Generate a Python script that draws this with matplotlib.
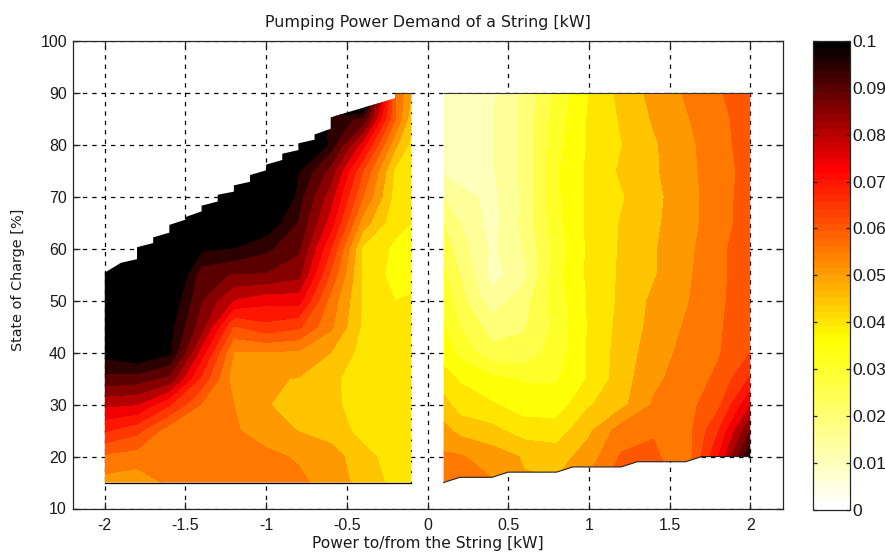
#!/usr/bin/env python
# -*- coding: utf-8 -*-
"""Plots the pumping power demand of a string."""

import matplotlib
matplotlib.use('Agg')
import matplotlib.pyplot as plt
import numpy as np
from matplotlib.cm import ScalarMappable
from matplotlib.colors import LinearSegmentedColormap, Normalize
from matplotlib.patches import Polygon

# Values
soc = [15, 20, 25, 30, 35, 40, 45, 50, 55, 60, 65, 70, 75, 80, 85, 90]
left_power = [-2, -1.8, -1.6, -1.4, -1.2, -1, -0.8, -0.6, -0.4, -0.2, -0.1]
right_power = [0.1, 0.2, 0.4, 0.6, 0.8, 1, 1.2, 1.4, 1.6, 1.8, 2]

left_demand = [
    [.053, .052, .056, .057, .0575, .058, .056, .053, .048, .0435, .042],
    [.059, .0575, .056, .0565, .057, .056, .0545, .0525, .0465, .043, .042],
    [.0705, .0665, .057, .056, .0555, .053, .0498, .0475, .0435, .0425, .0415],
    [.081, .08, .0705, .0595, .055, .0505, .047, .0465, .042, .0425, .041],
    [.0935, .0925, .0885, .0685, .0525, .0505, .0498, .0465, .0415, .0425, .0415],
    [.102, .105, .101, .0775, .0545, .0545, .054, .05, .043, .042, .0415],
    [.12, .12, .102, .087, .0645, .0685, .066, .056, .044, .041, .0408],
    [.12, .12, .105, .09, .0795, .0765, .077, .058, .0445, .04, .0405],
    [.12, .12, .11, .092, .0895, .0895, .0865, .064, .044, .038, .0385],
    [.12, .12, .12, .101, .0995, .096, .091, .07, .044, .039, .038],
    [.12, .12, .12, .12, .115, .104, .0945, .0775, .0525, .0415, .04],
    [.12, .12, .12, .12, .12, .12, .097, .082, .06, .043, .041],
    [.12, .12, .12, .12, .12, .12, .1005, .088, .065, .044, .0415],
    [.12, .12, .12, .12, .12, .12, .12, .0975, .077, .051, .0435],
    [.12, .12, .12, .12, .12, .12, .12, .097, .094, .06, .047],
    [.12, .12, .12, .12, .12, .12, .12, .12, .12, .06, .05],
]
right_demand = [
    [.058, .0585, .0555, .0505, .0505, .056, .064, .064, .058, .08, .11],
    [.0558, .0555, .0525, .0495, .0475, .0525, .0605, .061, .0565, .0745, .1],
    [.0515, .0485, .0465, .0425, .0425, .049, .0575, .0595, .0575, .0695, .09],
    [.047, .0425, .0405, .0375, .0372, .0445, .0485, .0555, .058, .0635, .0795],
    [.042, .0395, .036, .0345, .0345, .0405, .0475, .054, .057, .061, .0705],
    [.038, .0335, .0265, .027, .0325, .0405, .0472, .0525, .0565, .0595, .065],
    [.0355, .03, .0225, .0245, .0315, .0405, .0465, .0515, .0555, .0595, .0625],
    [.0335, .027, .017, .023, .0325, .0405, .046, .051, .0545, .059, .063],
    [.031, .025, .013, .0185, .0335, .041, .0457, .0495, .054, .0585, .0635],
    [.0275, .0225, .014, .0205, .032, .041, .0455, .0495, .0535, .0585, .0635],
    [.025, .02, .013, .0215, .0335, .041, .0453, .049, .053, .0577, .0625],
    [.0195, .017, .0135, .021, .034, .041, .0445, .0485, .053, .0575, .0625],
    [.014, .012, .0145, .0215, .0343, .041, .0457, .0492, .0535, .0575, .062],
    [.013, .012, .0145, .0215, .0335, .0405, .0448, .0493, .0535, .058, .0625],
    [.012, .012, .0145, .0215, .0325, .0405, .0455, .0505, .0545, .0585, .0625],
    [.012, .012, .0143, .021, .0315, .04, .0465, .0515, .0555, .0595, .0625],
]

# Limits of the operating range, outside of it there is no data
left_limit_power = [-2, -1.9, -1.8, -1.8, -1.7, -1.7, -1.6, -1.6, -1.5, -1.5, -1.4,
                    -1.4, -1.3, -1.3, -1.2, -1.2, -1.1, -1.1, -1, -1, -0.9, -0.9,
                    -0.8, -0.8, -0.7, -0.7, -0.6, -0.6, -0.2, -0.2, -0.1, -0.1, -2]
left_limit_soc = [55.4, 57.3, 58, 60.3, 61.1, 62.2, 63.1, 64.6, 65.6, 66.1, 67.2,
                  68.3, 69.1, 70.4, 71, 72.2, 72.9, 74.2, 75.1, 76.2, 77.1, 78.3,
                  79, 80.3, 81, 82, 83.1, 85.3, 89, 90, 90, 15, 15]
right_limit_power = [0.1, 0.2, 0.4, 0.5, 0.8, 0.9, 1.2, 1.3, 1.6, 1.7, 2, 2, 0.1]
right_limit_soc = [15, 16, 16, 17, 17, 18, 18, 19, 19, 20, 20, 90, 90]

x_ticks = [-2, -1.5, -1, -0.5, 0, 0.5, 1, 1.5, 2]
x_labels = ['-2', '-1.5', '-1', '-0.5', '0', '0.5', '1', '1.5', '2']
y_ticks = [10, 20, 30, 40, 50, 60, 70, 80, 90, 100]
bar_ticks = [0, .01, .02, .03, .04, .05, .06, .07, .08, .09, .1]
bar_labels = ['0', '0.01', '0.02', '0.03', '0.04', '0.05', '0.06', '0.07',
              '0.08', '0.09', '0.1']
levels = [0, .005, .01, .015, .02, .025, .03, .035, .04, .045, .05, .055, .06,
          .065, .07, .075, .08, .085, .09, .095, .1]

# Constants
_W, _H = 885, 559
_CLR_LINE = '#262626'
_CLR_TEXT = '#1a1a1a'

plt.rcParams['font.family'] = 'Liberation Sans'


def px_axes(fig, left, top, right, bottom):
    """Adds axes given by pixel edges of the picture."""
    return fig.add_axes([left / _W, 1 - bottom / _H, (right - left) / _W, (bottom - top) / _H])


if __name__ == '__main__':

    fig = plt.figure(figsize=(_W / 100, _H / 100), dpi=100)
    ax = px_axes(fig, 72.5, 41, 782.5, 508.5)

    # White - yellow - red - black
    cmap = LinearSegmentedColormap.from_list(
        'demand', [(0, '#ffffff'), (0.36, '#ffff00'), (0.73, '#ff0000'), (1, '#000000')], N=64)
    norm = Normalize(0, 0.1)

    # Each band has the colour of its lower level
    band_colors = [cmap(norm(lev)) for lev in levels[:-1]] + ['#000000']

    panels = [(left_power, left_demand, left_limit_power, left_limit_soc),
              (right_power, right_demand, right_limit_power, right_limit_soc)]
    for power, demand, lim_power, lim_soc in panels:
        cs = ax.contourf(power, soc, np.array(demand), levels=levels, colors=band_colors,
                         extend='max', zorder=2)
        clip = Polygon(np.column_stack([lim_power, lim_soc]), closed=True,
                       transform=ax.transData)
        cs.set_clip_path(clip)

    # Thin lines along the limits
    ax.plot([-2, -0.1], [15, 15], color='k', lw=0.9, zorder=3)
    ax.plot(right_limit_power[:11], right_limit_soc[:11], color='#222222', lw=0.8, zorder=3)
    ax.plot([0.1, 2], [90, 90], color='#333333', lw=0.8, zorder=3)
    ax.plot([-0.2, -0.1], [90, 90], color='#333333', lw=0.8, zorder=3)
    ax.plot([-0.1, -0.1], [15, 90], color='k', lw=0.8, ls=(0, (1.5, 8)), zorder=3)

    ax.set_xlim(-2.2, 2.2)
    ax.set_ylim(10, 100)
    ax.set_xticks(x_ticks)
    ax.set_xticklabels(x_labels)
    ax.set_yticks(y_ticks)
    ax.set_axisbelow(True)
    ax.grid(True, color='k', lw=0.9, ls=(0, (3.5, 4)))
    ax.tick_params(direction='in', top=True, right=True, length=5, width=0.9,
                   color=_CLR_LINE, labelcolor=_CLR_TEXT, labelsize=11.5)
    ax.tick_params(axis='x', pad=7)
    ax.tick_params(axis='y', pad=4)
    for spine in ax.spines.values():
        spine.set_linewidth(0.9)
        spine.set_color(_CLR_LINE)

    ax.set_title('Pumping Power Demand of a String [kW]', fontsize=11.4, pad=10,
                 color=_CLR_TEXT, family='DejaVu Sans')
    ax.set_xlabel('Power to/from the String [kW]', fontsize=11.2, labelpad=2,
                  color=_CLR_TEXT, family='DejaVu Sans')
    ax.set_ylabel('State of Charge [%]', fontsize=10.4, labelpad=11,
                  color=_CLR_TEXT, family='DejaVu Sans', y=0.49)

    # Colour bar
    cax = px_axes(fig, 812.5, 41, 849.5, 509.5)
    cbar = fig.colorbar(ScalarMappable(norm=norm, cmap=cmap), cax=cax)
    cbar.set_ticks(bar_ticks)
    cbar.set_ticklabels(bar_labels)
    cax.tick_params(direction='in', left=True, right=True, length=3, width=0.9,
                    color=_CLR_LINE, labelcolor=_CLR_TEXT, labelsize=12.5, pad=2)
    cbar.outline.set_linewidth(0.9)
    cbar.outline.set_edgecolor(_CLR_LINE)

    fig.savefig('out.png', dpi=100)
